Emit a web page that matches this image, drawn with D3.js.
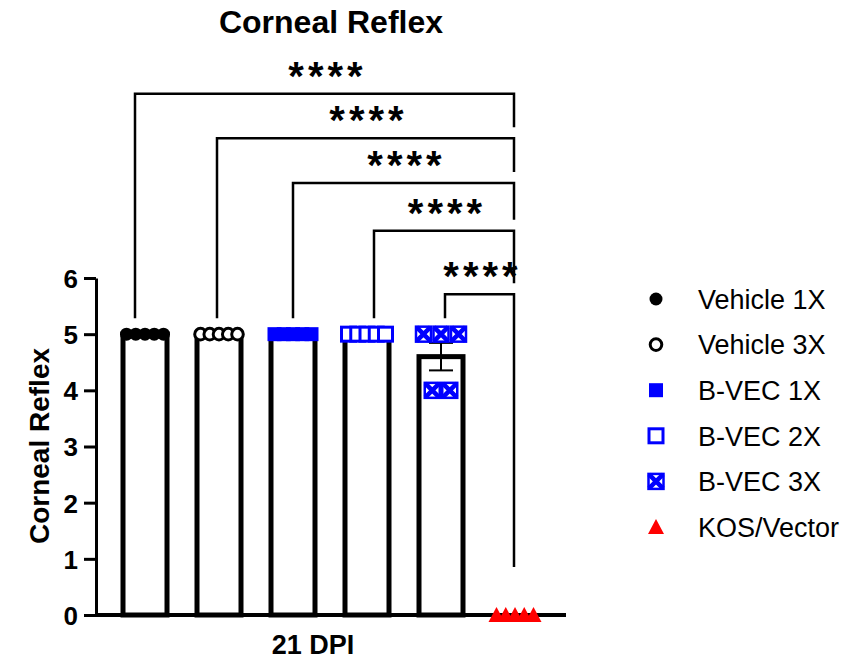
<!DOCTYPE html>
<html>
<head>
<meta charset="utf-8">
<script src="https://cdn.jsdelivr.net/npm/d3@7"></script>
<style>
  body { margin: 0; background: #fff; }
  svg { display: block; font-family: Arial, "Liberation Sans", sans-serif; }
</style>
</head>
<body>
<svg id="chart" width="854" height="661"></svg>
<script>
// groups in plot order
var groups = ["Vehicle 1X", "Vehicle 3X", "B-VEC 1X", "B-VEC 2X", "B-VEC 3X", "KOS/Vector"];

// individual scores per animal
var vehicle1x = [5, 5, 5, 5, 5];
var vehicle3x = [5, 5, 5, 5, 5];
var bvec1x = [5, 5, 5, 5, 5];
var bvec2x = [5, 5, 5, 5, 5];
var bvec3x = [5, 5, 5, 4, 4];
var kosVector = [0, 0, 0, 0, 0];

var yTicks = [0, 1, 2, 3, 4, 5, 6];

// every group compared against KOS/Vector
var comparisons = [
  ["Vehicle 1X", "KOS/Vector", "****"],
  ["Vehicle 3X", "KOS/Vector", "****"],
  ["B-VEC 1X", "KOS/Vector", "****"],
  ["B-VEC 2X", "KOS/Vector", "****"],
  ["B-VEC 3X", "KOS/Vector", "****"]
];
// bracket heights, in axis units
var bracketLevels = [9.28, 8.49, 7.69, 6.84, 5.71];
var bracketNudge = [-10, -2, 0, 7, 4];

var series = [vehicle1x, vehicle3x, bvec1x, bvec2x, bvec3x, kosVector];

var blue = "#0000ff", red = "#ff0000";
var markers = ["dot", "ring", "square", "openSquare", "xSquare", "triangle"];

var svg = d3.select("#chart");

var x = d3.scalePoint().domain(groups).range([145, 515]);
var y = d3.scaleLinear().domain([0, 6]).range([615, 278]);
var barW = 44;

var stats = groups.map(function (g, i) {
  var v = series[i];
  var m = d3.mean(v);
  var sem = d3.deviation(v) / Math.sqrt(v.length) || 0;
  return { group: g, values: v, mean: m, sem: sem };
});

// title
svg.append("text")
  .attr("x", 331).attr("y", 33)
  .attr("text-anchor", "middle")
  .attr("font-size", 32).attr("font-weight", "bold")
  .text("Corneal Reflex");

// bars
svg.append("g").selectAll("rect")
  .data(stats)
  .enter()
  .append("rect")
  .attr("x", function (d) { return x(d.group) - barW / 2; })
  .attr("y", function (d) { return y(d.mean); })
  .attr("width", barW)
  .attr("height", function (d) { return y(0) - y(d.mean); })
  .attr("fill", "#fff")
  .attr("stroke", "#000")
  .attr("stroke-width", 5);

// error bars (SEM)
var eb = svg.append("g").selectAll("g")
  .data(stats.filter(function (d) { return d.sem > 0; }))
  .enter()
  .append("g")
  .attr("stroke", "#000")
  .attr("stroke-width", 2);
eb.append("line")
  .attr("x1", function (d) { return x(d.group); })
  .attr("x2", function (d) { return x(d.group); })
  .attr("y1", function (d) { return y(d.mean + d.sem); })
  .attr("y2", function (d) { return y(d.mean - d.sem); });
eb.append("line")
  .attr("x1", function (d) { return x(d.group) - 12; })
  .attr("x2", function (d) { return x(d.group) + 12; })
  .attr("y1", function (d) { return y(d.mean + d.sem); })
  .attr("y2", function (d) { return y(d.mean + d.sem); });
eb.append("line")
  .attr("x1", function (d) { return x(d.group) - 12; })
  .attr("x2", function (d) { return x(d.group) + 12; })
  .attr("y1", function (d) { return y(d.mean - d.sem); })
  .attr("y2", function (d) { return y(d.mean - d.sem); });

// y axis
var yAxis = svg.append("g")
  .attr("transform", "translate(96,0)")
  .call(d3.axisLeft(y).tickValues(yTicks).tickFormat(d3.format("d")).tickSize(12).tickSizeOuter(0));
yAxis.select(".domain").attr("stroke-width", 3);
yAxis.selectAll(".tick line").attr("stroke-width", 3);
yAxis.selectAll(".tick text")
  .attr("font-size", 26).attr("font-weight", "bold")
  .attr("font-family", "Arial, 'Liberation Sans', sans-serif")
  .attr("x", -18).attr("dy", "0.36em");

// x axis baseline
svg.append("line")
  .attr("x1", 95).attr("x2", 566)
  .attr("y1", y(0)).attr("y2", y(0))
  .attr("stroke", "#000").attr("stroke-width", 4);

svg.append("text")
  .attr("x", 313).attr("y", 654)
  .attr("text-anchor", "middle")
  .attr("font-size", 27).attr("font-weight", "bold")
  .text("21 DPI");

svg.append("text")
  .attr("transform", "translate(49,446) rotate(-90)")
  .attr("text-anchor", "middle")
  .attr("font-size", 28).attr("font-weight", "bold")
  .text("Corneal Reflex");

// marker drawing
function drawMarker(sel, kind) {
  if (kind == "dot") {
    sel.append("circle").attr("r", 6.5).attr("fill", "#000");
  } else if (kind == "ring") {
    sel.append("circle").attr("r", 5.8).attr("fill", "#fff").attr("stroke", "#000").attr("stroke-width", 3);
  } else if (kind == "square") {
    sel.append("rect").attr("x", -7).attr("y", -7).attr("width", 14).attr("height", 14).attr("fill", blue);
  } else if (kind == "openSquare") {
    sel.append("rect").attr("x", -7).attr("y", -7).attr("width", 14).attr("height", 14)
      .attr("fill", "#fff").attr("stroke", blue).attr("stroke-width", 3);
  } else if (kind == "xSquare") {
    sel.append("rect").attr("x", -7.5).attr("y", -7.5).attr("width", 15).attr("height", 15)
      .attr("fill", "#fff").attr("stroke", blue).attr("stroke-width", 2.5);
    sel.append("path").attr("d", "M-7,-7L7,7M7,-7L-7,7")
      .attr("stroke", blue).attr("stroke-width", 4.5);
  } else if (kind == "triangle") {
    sel.append("path").attr("d", "M0,-8L8,7L-8,7Z").attr("fill", red);
  }
}

// individual points, spread sideways within each row of equal values
var markerW = { dot: 13, ring: 13, square: 14, openSquare: 17, xSquare: 17.5, triangle: 16 };
var pts = [];
stats.forEach(function (d, gi) {
  var rows = d3.group(d.values, function (v) { return v; });
  rows.forEach(function (vals, v) {
    var n = vals.length;
    var step = n > 1 ? Math.min(markerW[markers[gi]], 37 / (n - 1)) : 0;
    vals.forEach(function (_, i) {
      pts.push({ gi: gi, group: d.group, value: v, off: (i - (n - 1) / 2) * step });
    });
  });
});

svg.append("g").selectAll("g")
  .data(pts)
  .enter()
  .append("g")
  .attr("transform", function (d) { return "translate(" + (x(d.group) + d.off) + "," + y(d.value) + ")"; })
  .each(function (d) { drawMarker(d3.select(this), markers[d.gi]); });

// significance brackets
var br = svg.append("g").attr("fill", "none").attr("stroke", "#000").attr("stroke-width", 2.5);
comparisons.forEach(function (c, i) {
  var x1 = x(c[0]) + bracketNudge[i];
  var x2 = x(c[1]) - 1;
  var yl = y(bracketLevels[i]);
  var leftEnd = y(d3.max(series[groups.indexOf(c[0])])) - 16;
  var rightEnd = i < comparisons.length - 1 ? y(bracketLevels[i + 1]) - 11 : y(0) - 48;
  br.append("path")
    .attr("d", "M" + x1 + "," + leftEnd + "V" + yl + "H" + x2 + "V" + rightEnd);
  svg.append("text")
    .attr("x", (x1 + x2) / 2 + 3)
    .attr("y", yl - 4)
    .attr("text-anchor", "middle")
    .attr("font-size", 40).attr("font-weight", "bold")
    .attr("letter-spacing", 4)
    .text(c[2]);
});

// legend
var legend = svg.append("g").selectAll("g")
  .data(groups)
  .enter()
  .append("g")
  .attr("transform", function (d, i) { return "translate(656," + (299 + i * 45.6) + ")"; });
legend.each(function (d, i) { drawMarker(d3.select(this), markers[i]); });
legend.append("text")
  .attr("x", 42).attr("dy", "0.36em")
  .attr("font-size", 27)
  .text(function (d) { return d; });
</script>
</body>
</html>
